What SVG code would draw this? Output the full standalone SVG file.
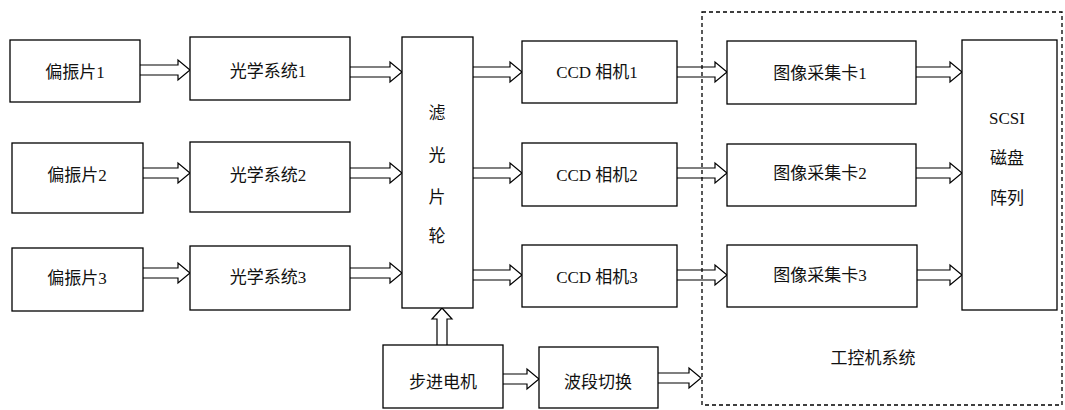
<svg xmlns="http://www.w3.org/2000/svg" width="1065" height="410" viewBox="0 0 1065 410">
<style>
.box{fill:#fff;stroke:#000;stroke-width:1.3}
.arrow{fill:#fff;stroke:#000;stroke-width:1.2;stroke-linejoin:miter}
.region{fill:none;stroke:#000;stroke-width:1.3;stroke-dasharray:4 3}
text{font-family:"Liberation Serif","Noto Sans CJK SC",serif;font-size:17px;fill:#111;text-anchor:middle;dominant-baseline:central}
</style>
<rect width="1065" height="410" fill="#fff"/>
<g id="connectors">
<path class="arrow" d="M140 65H178V60L190 70L178 80V75H140"/>
<path class="arrow" d="M143 168H178V163L190 173L178 183V178H143"/>
<path class="arrow" d="M143 268H178V263L190 273L178 283V278H143"/>
<path class="arrow" d="M350 67H390V62L402 72L390 82V77H350"/>
<path class="arrow" d="M350 168H390V163L402 173L390 183V178H350"/>
<path class="arrow" d="M350 268H390V263L402 273L390 283V278H350"/>
<path class="arrow" d="M473 67H510V62L522 72L510 82V77H473"/>
<path class="arrow" d="M473 168H510V163L522 173L510 183V178H473"/>
<path class="arrow" d="M473 270H510V265L522 275L510 285V280H473"/>
<path class="arrow" d="M677 67H715V62L727 72L715 82V77H677"/>
<path class="arrow" d="M677 168H715V163L727 173L715 183V178H677"/>
<path class="arrow" d="M677 270H715V265L727 275L715 285V280H677"/>
<path class="arrow" d="M916 67H950V62L962 72L950 82V77H916"/>
<path class="arrow" d="M916 168H950V163L962 173L950 183V178H916"/>
<path class="arrow" d="M917 270H950V265L962 275L950 285V280H917"/>
<path class="arrow" d="M437 345V319H432L442 308L452 319H447V345"/>
<path class="arrow" d="M503 374H527V369L539 379L527 389V384H503"/>
<path class="arrow" d="M658 373H689V368L701 378L689 388V383H658"/>
</g>
<g id="region-ipc">
<rect class="region" x="702" y="12" width="360" height="393"/>
<text x="873" y="358">工控机系统</text>
</g>
<g id="polarizer1"><rect class="box" x="10" y="40" width="130" height="62"/><text x="75" y="72">偏振片1</text></g>
<g id="polarizer2"><rect class="box" x="12" y="143" width="131" height="70"/><text x="77" y="175">偏振片2</text></g>
<g id="polarizer3"><rect class="box" x="12" y="248" width="131" height="63"/><text x="77" y="278">偏振片3</text></g>
<g id="optics1"><rect class="box" x="190" y="37" width="160" height="63"/><text x="268" y="71">光学系统1</text></g>
<g id="optics2"><rect class="box" x="190" y="142" width="160" height="70"/><text x="268" y="175">光学系统2</text></g>
<g id="optics3"><rect class="box" x="190" y="246" width="160" height="64"/><text x="268" y="277">光学系统3</text></g>
<g id="filter-wheel"><rect class="box" x="402" y="37" width="71" height="271"/>
<text x="437" y="113">滤</text><text x="437" y="155">光</text><text x="437" y="197">片</text><text x="437" y="236">轮</text></g>
<g id="ccd1"><rect class="box" x="522" y="41" width="155" height="62"/><text x="597" y="72">CCD 相机1</text></g>
<g id="ccd2"><rect class="box" x="522" y="143" width="155" height="63"/><text x="597" y="175">CCD 相机2</text></g>
<g id="ccd3"><rect class="box" x="522" y="245" width="155" height="62"/><text x="597" y="277">CCD 相机3</text></g>
<g id="grabber1"><rect class="box" x="727" y="41" width="189" height="63"/><text x="820" y="73">图像采集卡1</text></g>
<g id="grabber2"><rect class="box" x="727" y="144" width="189" height="62"/><text x="820" y="173">图像采集卡2</text></g>
<g id="grabber3"><rect class="box" x="727" y="245" width="190" height="62"/><text x="820" y="275">图像采集卡3</text></g>
<g id="scsi"><rect class="box" x="962" y="40" width="95" height="270"/>
<text x="1007" y="118">SCSI</text><text x="1007" y="158">磁盘</text><text x="1007" y="198">阵列</text></g>
<g id="stepper"><rect class="box" x="383" y="345" width="120" height="63"/><text x="443" y="382">步进电机</text></g>
<g id="band-switch"><rect class="box" x="539" y="347" width="119" height="61"/><text x="598" y="382">波段切换</text></g>
</svg>
